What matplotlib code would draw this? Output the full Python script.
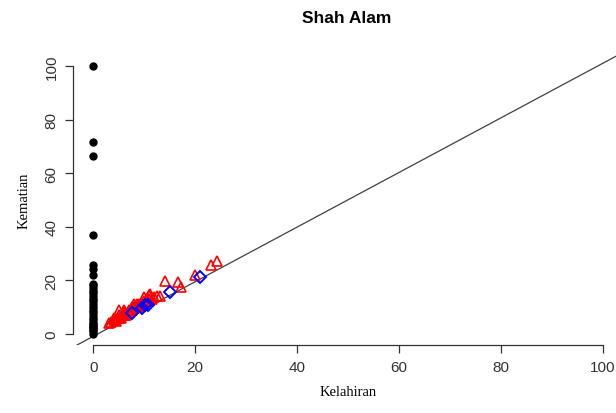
import matplotlib
matplotlib.use("Agg")
import matplotlib.pyplot as plt

# black dots: Kelahiran = 0
black_x = [0] * 30
black_y = [100, 71.5, 66.5, 37, 25.5, 24, 22, 18.5, 18, 17, 16, 15, 14, 13, 12, 11,
           10, 9, 8, 7, 6, 5, 4, 3.5, 3, 2.5, 2, 1.5, 1, 0]

# red triangles
red_x = [3, 3.5, 4, 4, 4.5, 4.5, 5, 5, 5.5, 5.5, 6, 6, 6, 6.5, 6.5, 7, 7, 7.5, 7.5,
         8, 8, 8, 8.5, 9, 9, 9.5, 10, 10, 10.5, 11, 11, 11.5, 12, 12.5, 13,
         5, 8.6, 11.2, 14, 16.7, 17.3, 20, 23.1, 24.3]
red_y = [4, 4.5, 5, 6, 4.8, 5.5, 6, 7, 5.8, 6.5, 7, 8, 9, 6.8, 7.5, 8, 9, 9, 10,
         9.5, 10, 11, 10, 10.5, 11, 11.5, 12, 13.5, 12.5, 13, 14.5, 13, 13.5, 14, 14,
         8.7, 11.2, 14.9, 19.7, 19.3, 17.4, 22, 25.5, 27]

# blue diamonds
blue_x = [7.6, 9.5, 10.2, 10.8, 15.1, 21]
blue_y = [7.8, 9.6, 10.6, 10.8, 15.6, 21.2]

# reference line
line_a, line_b = -1.0, 1.02

fig = plt.figure(figsize=(6.16, 4.14), dpi=100)
ax = fig.add_axes([0.1185, 0.164, 0.893, 0.70])

ax.axline((0, line_a), slope=line_b, color="#404040", lw=0.9, zorder=1)
ax.plot(black_x, black_y, "o", color="black", ms=5, zorder=3)
ax.plot(red_x, red_y, "^", mfc="none", mec="red", mew=1.2, ms=7, zorder=2)
ax.plot(blue_x, blue_y, "D", mfc="none", mec="blue", mew=1.4, ms=6, zorder=4)

ax.set_xlim(-4, 104)
ax.set_ylim(-4.3, 104)
ticks = [0, 20, 40, 60, 80, 100]
ax.set_xticks(ticks)
ax.set_yticks(ticks)
ax.set_xticklabels([str(t) for t in ticks], family="Liberation Sans", fontsize=11, color="#333333")
ax.set_yticklabels([str(t) for t in ticks], family="Liberation Sans", fontsize=11,
                   color="#333333", rotation=90, va="center")

for s in ["top", "right"]:
    ax.spines[s].set_visible(False)
ax.spines["left"].set_bounds(0, 100)
ax.spines["bottom"].set_bounds(0, 100)
for s in ["left", "bottom"]:
    ax.spines[s].set_color("#333333")
    ax.spines[s].set_linewidth(0.9)
ax.tick_params(direction="out", length=5.5, width=0.9, color="#333333", pad=5)

ax.set_xlabel("Kelahiran", family="Liberation Serif", fontsize=10.5, labelpad=8)
ax.set_ylabel("Kematian", family="Liberation Serif", fontsize=10.5, labelpad=10)
fig.text(0.563, 0.955, "Shah Alam", ha="center", va="center",
         family="Liberation Sans", fontweight="bold", fontsize=12.5)

fig.savefig("out.png", dpi=100)
